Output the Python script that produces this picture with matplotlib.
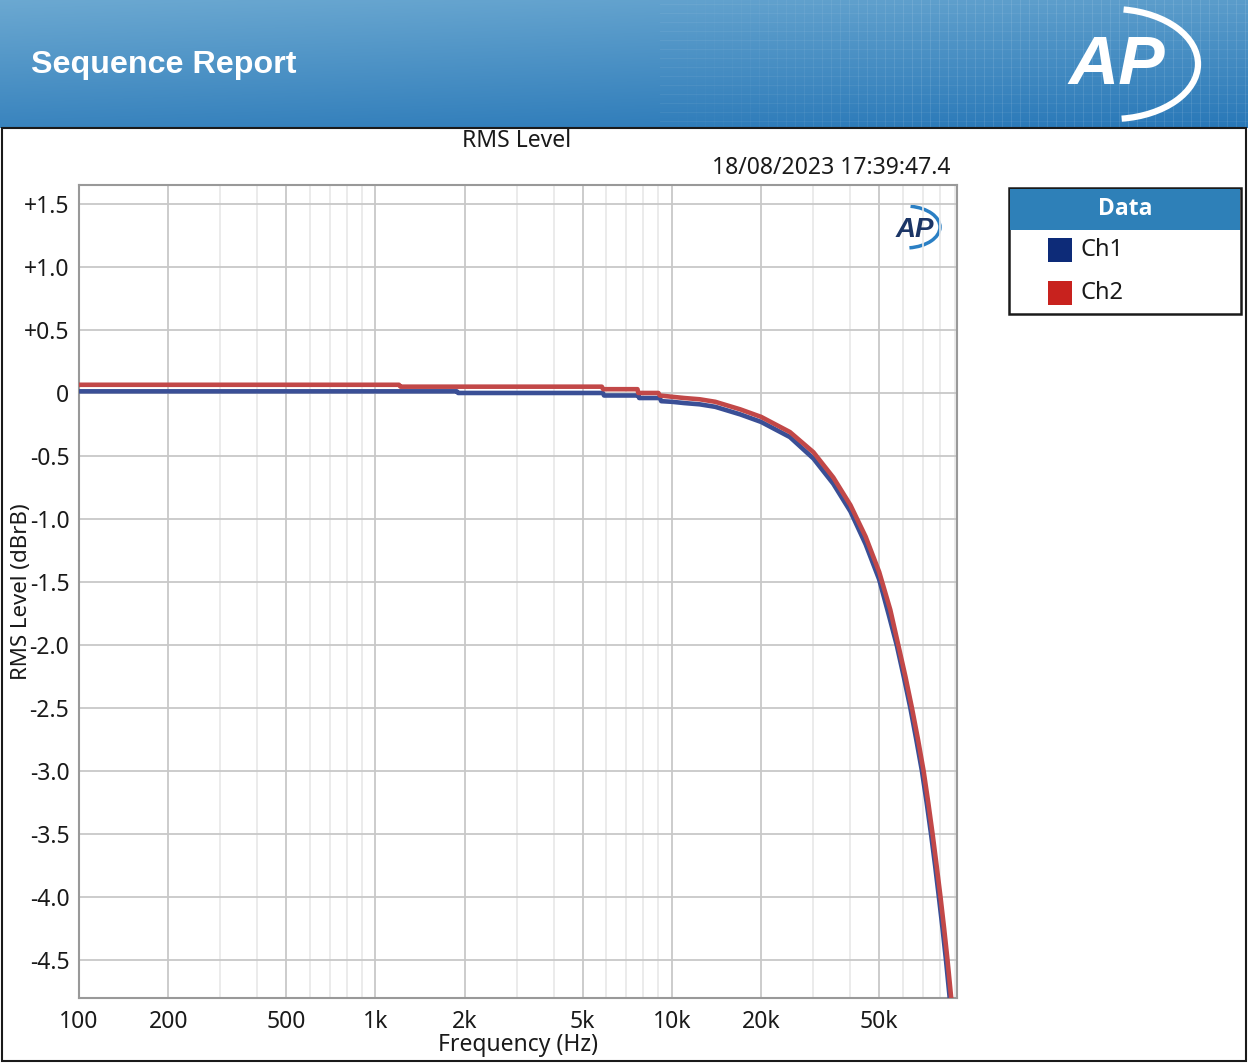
import numpy as np
import matplotlib
matplotlib.use("Agg")
import matplotlib.pyplot as plt
from matplotlib.patches import Rectangle, Arc
from matplotlib.ticker import FixedLocator, NullFormatter, LogLocator

# ---------------- data ----------------
ch1_freq = [100, 1880, 1900, 5850, 5900, 7700, 7750, 9100, 9200, 10000, 11000,
            12400, 14000, 17000, 20000, 25000, 30000, 35000, 40000, 45000,
            50000, 54000, 57300, 60500, 63700, 66700, 69700, 72300, 74800,
            77200, 79500, 81800, 84000, 87300]
ch1_level = [0.013, 0.013, 0.0, 0.0, -0.02, -0.02, -0.04, -0.04, -0.065, -0.07,
             -0.08, -0.09, -0.11, -0.17, -0.23, -0.35, -0.52, -0.72, -0.94,
             -1.20, -1.48, -1.77, -2.00, -2.25, -2.50, -2.75, -3.00, -3.25,
             -3.50, -3.75, -4.00, -4.25, -4.50, -4.90]

ch2_freq = [100, 1200, 1215, 5800, 5860, 7650, 7700, 9000, 9100, 10000, 11000,
            12400, 14000, 17000, 20000, 25000, 30000, 35000, 40000, 45000,
            50000, 54500, 58000, 61300, 64500, 67600, 70600, 73200, 75700,
            78100, 80500, 82800, 85000, 88300]
ch2_level = [0.065, 0.065, 0.05, 0.05, 0.03, 0.03, 0.0, 0.0, -0.02, -0.03,
             -0.04, -0.05, -0.07, -0.13, -0.19, -0.31, -0.47, -0.67, -0.89,
             -1.14, -1.42, -1.72, -2.00, -2.25, -2.50, -2.75, -3.00, -3.25,
             -3.50, -3.75, -4.00, -4.25, -4.50, -4.90]

series_names = ["Ch1", "Ch2"]
series_colors = ["#0d2b78", "#c8221e"]
line_colors = ["#3a4f96", "#c24848"]

x_ticks = [100, 200, 500, 1000, 2000, 5000, 10000, 20000, 50000]
x_tick_labels = ["100", "200", "500", "1k", "2k", "5k", "10k", "20k", "50k"]
y_ticks = [1.5, 1.0, 0.5, 0.0, -0.5, -1.0, -1.5, -2.0, -2.5, -3.0, -3.5, -4.0, -4.5]
y_tick_labels = ["+1.5", "+1.0", "+0.5", "0", "-0.5", "-1.0", "-1.5", "-2.0",
                 "-2.5", "-3.0", "-3.5", "-4.0", "-4.5"]

title = "RMS Level"
timestamp = "18/08/2023 17:39:47.4"
header_title = "Sequence Report"
x_label = "Frequency (Hz)"
y_label = "RMS Level (dBrB)"
legend_title = "Data"

# ---------------- figure ----------------
W, H = 1248, 1063
plt.rcParams['font.family'] = ['Noto Sans', 'DejaVu Sans']
fig = plt.figure(figsize=(W / 100, H / 100), dpi=100)
FS = 16.5

# background axes in pixel coordinates
bg = fig.add_axes([0, 0, 1, 1], zorder=0)
bg.set_xlim(0, W)
bg.set_ylim(H, 0)
bg.axis('off')

# header gradient
ny, nx = 64, 256
yy = np.linspace(0, 1, ny)[:, None]
xx = np.linspace(0, 1, nx)[None, :]
top = np.array([0.42, 0.66, 0.82])
bot = np.array([0.16, 0.47, 0.72])
t = np.clip(0.75 * yy + 0.25 * xx, 0, 1)
img = top[None, None, :] * (1 - t[..., None]) + bot[None, None, :] * t[..., None]
bg.imshow(img, extent=[0, W, 128, 0], aspect='auto', zorder=1, interpolation='bilinear')
for gx in np.arange(660, W, 9):
    a = 0.10 * min(1, (gx - 660) / 250)
    bg.plot([gx, gx], [0, 128], color='white', lw=0.8, alpha=a, zorder=2)
for gy in np.arange(4, 128, 9):
    bg.plot([660, W], [gy, gy], color='white', lw=0.8, alpha=0.06, zorder=2)

bg.text(31, 65, header_title, color='white', fontsize=23.2, fontweight='bold',
        family=['Liberation Sans', 'DejaVu Sans'], va='center', ha='left', zorder=3)
bg.text(1117, 66, "AP", color='white', fontsize=50, fontweight='bold', style='italic',
        family=['Liberation Sans', 'DejaVu Sans'], va='center', ha='center', zorder=3)
bg.add_patch(Arc((1112, 64), 172, 110, theta1=-78, theta2=80, color='white', lw=4.5, zorder=3))

# content border
bg.add_patch(Rectangle((2, 128), W - 4, H - 130, fill=False, edgecolor='#1a1a1a', lw=1.5, zorder=3))

# title and timestamp
bg.text(517, 141, title, fontsize=FS, color='#1a1a1a', ha='center', va='center', zorder=3)
bg.text(950, 168, timestamp, fontsize=FS, color='#1a1a1a', ha='right', va='center', zorder=3)

# legend box
bg.add_patch(Rectangle((1009, 188), 232, 126, facecolor='white', edgecolor='#1a1a1a', lw=1.8, zorder=3))
bg.add_patch(Rectangle((1010, 189), 230, 41, facecolor='#2e80b8', edgecolor='none', zorder=4))
bg.text(1125, 209, legend_title, color='white', fontsize=16.5, fontweight='bold',
        family=['Open Sans', 'DejaVu Sans'], ha='center', va='center', zorder=5)
for i, (nm, c) in enumerate(zip(series_names, series_colors)):
    yc = 250 + i * 43
    bg.add_patch(Rectangle((1048, yc - 12), 24, 24, facecolor=c, edgecolor='none', zorder=5))
    bg.text(1080, yc, nm, fontsize=17, color='#1a1a1a', ha='left', va='center', zorder=5)

# y label (drawn over tick labels as in the reference)
bg.text(22, 592, y_label, fontsize=16, color='#1a1a1a', rotation=90,
        ha='center', va='center', zorder=10)

# ---------------- plot axes ----------------
ax = fig.add_axes([79 / W, 1 - 998 / H, (957 - 79) / W, (998 - 185) / H], zorder=2)
ax.patch.set_alpha(0)
ax.set_xscale('log')
ax.set_xlim(100, 91500)
ax.set_ylim(-4.8, 1.65)

ax.plot(ch1_freq, ch1_level, color=line_colors[0], lw=3.3, solid_joinstyle='round', zorder=3)
ax.plot(ch2_freq, ch2_level, color=line_colors[1], lw=3.3, solid_joinstyle='round', zorder=4)

ax.xaxis.set_major_locator(FixedLocator(x_ticks))
ax.set_xticklabels(x_tick_labels)
ax.xaxis.set_minor_locator(LogLocator(base=10, subs=[3, 4, 6, 7, 8, 9]))
ax.xaxis.set_minor_formatter(NullFormatter())
ax.set_yticks(y_ticks)
ax.set_yticklabels(y_tick_labels)

ax.grid(True, which='major', color='#c8c8c8', lw=1.3)
ax.grid(True, which='minor', axis='x', color='#e8e8e8', lw=1.2)
ax.tick_params(which='both', length=0, labelsize=FS, colors='#1a1a1a', pad=7)
ax.tick_params(axis='x', pad=9)
for s in ax.spines.values():
    s.set_color('#999999')
    s.set_linewidth(1.5)

ax.set_xlabel(x_label, fontsize=FS, color='#1a1a1a', labelpad=-1)

# AP watermark inside plot
ax.text(0.952, 0.945, "AP", transform=ax.transAxes, fontsize=20, fontweight='bold',
        style='italic', color='#1b3566', family=['Liberation Sans', 'DejaVu Sans'],
        ha='center', va='center', zorder=5)
bg.add_patch(Arc((905, 227), 70, 42, theta1=-75, theta2=78, color='#2a7fc4', lw=2.5, zorder=11))

fig.savefig("out.png", dpi=100)
